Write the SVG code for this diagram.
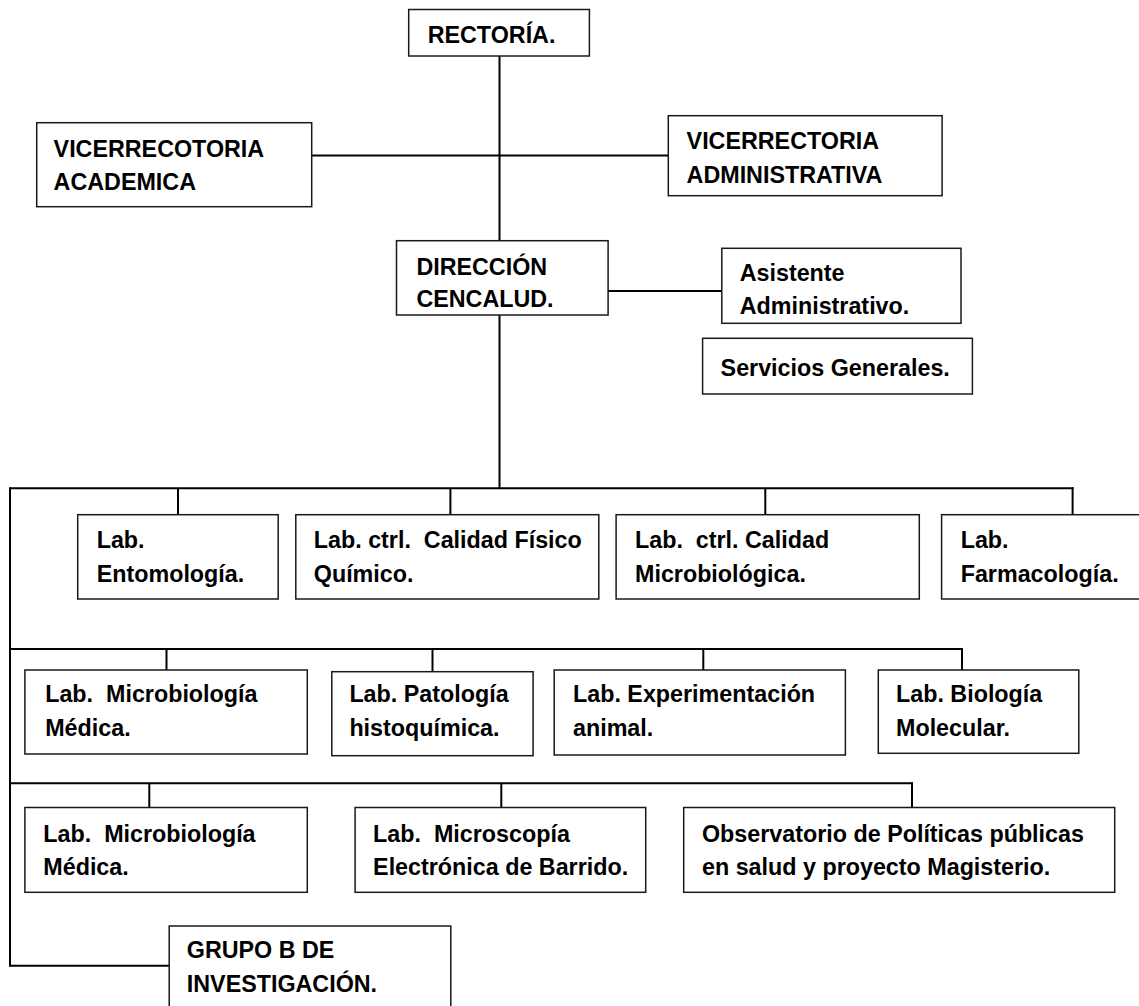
<svg xmlns="http://www.w3.org/2000/svg" width="1139" height="1006" viewBox="0 0 1139 1006">
<style>
.b{fill:#fff;stroke:#1a1a1a;stroke-width:1.5}
.c line{stroke:#000;stroke-width:2}
text{font-family:"Liberation Sans",Arial,sans-serif;font-weight:bold;font-size:23.3px;fill:#000;white-space:pre}
</style>
<rect width="1139" height="1006" fill="#fff"/>
<g class="c" id="connectors">
<line x1="499.5" y1="56" x2="499.5" y2="241"/>
<line x1="499.5" y1="315" x2="499.5" y2="488.3"/>
<line x1="311.7" y1="155.5" x2="668.3" y2="155.5"/>
<line x1="608" y1="291" x2="721.8" y2="291"/>
<line x1="10" y1="488.3" x2="1073.6" y2="488.3"/>
<line x1="10" y1="487.3" x2="10" y2="966.7"/>
<line x1="178" y1="488.3" x2="178" y2="514.7"/>
<line x1="450.4" y1="488.3" x2="450.4" y2="514.7"/>
<line x1="765.3" y1="488.3" x2="765.3" y2="514.7"/>
<line x1="1072.6" y1="487.3" x2="1072.6" y2="514.7"/>
<line x1="10" y1="649" x2="963" y2="649"/>
<line x1="166.5" y1="649" x2="166.5" y2="670"/>
<line x1="432.5" y1="649" x2="432.5" y2="671.7"/>
<line x1="703.3" y1="649" x2="703.3" y2="670"/>
<line x1="962" y1="648" x2="962" y2="670"/>
<line x1="10" y1="783.3" x2="913" y2="783.3"/>
<line x1="149.3" y1="783.3" x2="149.3" y2="807.5"/>
<line x1="501.3" y1="783.3" x2="501.3" y2="807.5"/>
<line x1="912" y1="782.3" x2="912" y2="807.5"/>
<line x1="10" y1="965.7" x2="169.2" y2="965.7"/>
</g>
<g id="rectoria"><rect class="b" x="408.7" y="9.5" width="180.7" height="46.5"/><text x="427.7" y="42.7">RECTORÍA.</text></g>
<g id="vice-academica"><rect class="b" x="36.7" y="122.7" width="275" height="84"/><text x="53.6" y="156.7">VICERRECOTORIA</text><text x="53.6" y="190">ACADEMICA</text></g>
<g id="vice-administrativa"><rect class="b" x="668.3" y="115.7" width="273.8" height="80"/><text x="686.6" y="149">VICERRECTORIA</text><text x="686.6" y="182.5">ADMINISTRATIVA</text></g>
<g id="direccion"><rect class="b" x="396.5" y="240.7" width="211.6" height="74.3"/><text x="416.4" y="274.5">DIRECCIÓN</text><text x="416.4" y="306.5">CENCALUD.</text></g>
<g id="asistente"><rect class="b" x="721.8" y="248.3" width="239.2" height="75"/><text x="739.7" y="280.5">Asistente</text><text x="739.7" y="313.5">Administrativo.</text></g>
<g id="servicios"><rect class="b" x="702.6" y="338.3" width="269.8" height="55.7"/><text x="720.6" y="376">Servicios Generales.</text></g>
<g id="lab-entomologia"><rect class="b" x="77.7" y="514.7" width="200.5" height="84.3"/><text x="96.7" y="548.3">Lab.</text><text x="96.7" y="581.7">Entomología.</text></g>
<g id="lab-fisicoquimico"><rect class="b" x="295.8" y="514.7" width="303" height="84.3"/><text x="313.8" y="548.3">Lab. ctrl.  Calidad Físico</text><text x="313.8" y="581.7">Químico.</text></g>
<g id="lab-microbiologica"><rect class="b" x="616.1" y="514.7" width="303.2" height="84.3"/><text x="635" y="548.3">Lab.  ctrl. Calidad</text><text x="635" y="581.7">Microbiológica.</text></g>
<g id="lab-farmacologia"><rect class="b" x="941.6" y="514.7" width="210" height="84.3"/><text x="960.7" y="548.3">Lab.</text><text x="960.7" y="581.7">Farmacología.</text></g>
<g id="lab-microbiologia-medica-1"><rect class="b" x="24.9" y="670" width="282.4" height="84"/><text x="45.2" y="702.3">Lab.  Microbiología</text><text x="45.2" y="735.5">Médica.</text></g>
<g id="lab-patologia"><rect class="b" x="331.8" y="671.7" width="201.3" height="84"/><text x="349.4" y="702.3">Lab. Patología</text><text x="349.4" y="735.5">histoquímica.</text></g>
<g id="lab-experimentacion"><rect class="b" x="554.2" y="670" width="291.2" height="85"/><text x="573" y="702.3">Lab. Experimentación</text><text x="573" y="735.5">animal.</text></g>
<g id="lab-biologia"><rect class="b" x="878.3" y="670" width="200.5" height="83.3"/><text x="896" y="702.3">Lab. Biología</text><text x="896" y="735.5">Molecular.</text></g>
<g id="lab-microbiologia-medica-2"><rect class="b" x="24.9" y="807.5" width="282.4" height="84.8"/><text x="43.3" y="841.7">Lab.  Microbiología</text><text x="43.3" y="875">Médica.</text></g>
<g id="lab-microscopia"><rect class="b" x="355.1" y="807.5" width="290.6" height="84.8"/><text x="373.1" y="841.7">Lab.  Microscopía</text><text x="373.1" y="875">Electrónica de Barrido.</text></g>
<g id="observatorio"><rect class="b" x="683.7" y="807.5" width="431" height="84.8"/><text x="702" y="841.7">Observatorio de Políticas públicas</text><text x="702" y="875">en salud y proyecto Magisterio.</text></g>
<g id="grupo-b"><rect class="b" x="169.2" y="926" width="281.6" height="90"/><text x="186.8" y="958">GRUPO B DE</text><text x="186.8" y="992">INVESTIGACIÓN.</text></g>
</svg>
